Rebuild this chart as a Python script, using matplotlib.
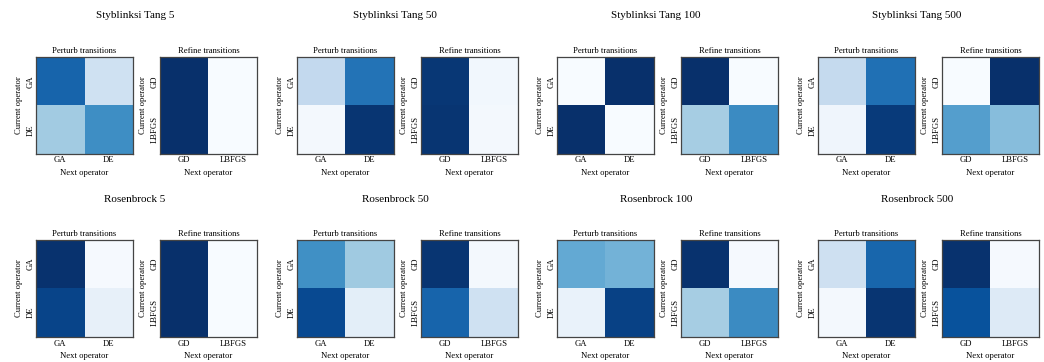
import numpy as np
import matplotlib
matplotlib.use("Agg")
import matplotlib.pyplot as plt

plt.rcParams["font.family"] = ["Liberation Serif", "DejaVu Serif"]

# Transition probabilities (rows: current operator, columns: next operator)
perturb_ops = ["GA", "DE"]
refine_ops = ["GD", "LBFGS"]

problems = [
    "Styblinksi Tang 5", "Styblinksi Tang 50", "Styblinksi Tang 100", "Styblinksi Tang 500",
    "Rosenbrock 5", "Rosenbrock 50", "Rosenbrock 100", "Rosenbrock 500",
]

perturb_st5 = [[0.80, 0.20], [0.36, 0.64]]
refine_st5 = [[1.00, 0.00], [1.00, 0.00]]
perturb_st50 = [[0.26, 0.74], [0.02, 0.98]]
refine_st50 = [[0.97, 0.03], [0.98, 0.02]]
perturb_st100 = [[0.00, 1.00], [1.00, 0.00]]
refine_st100 = [[1.00, 0.00], [0.35, 0.65]]
perturb_st500 = [[0.25, 0.75], [0.04, 0.96]]
refine_st500 = [[0.00, 1.00], [0.57, 0.43]]

perturb_rb5 = [[0.99, 0.01], [0.92, 0.08]]
refine_rb5 = [[1.00, 0.00], [1.00, 0.00]]
perturb_rb50 = [[0.63, 0.37], [0.90, 0.10]]
refine_rb50 = [[0.98, 0.02], [0.80, 0.20]]
perturb_rb100 = [[0.52, 0.48], [0.07, 0.93]]
refine_rb100 = [[0.99, 0.01], [0.35, 0.65]]
perturb_rb500 = [[0.21, 0.79], [0.02, 0.98]]
refine_rb500 = [[0.99, 0.01], [0.87, 0.13]]

perturb_all = [perturb_st5, perturb_st50, perturb_st100, perturb_st500,
               perturb_rb5, perturb_rb50, perturb_rb100, perturb_rb500]
refine_all = [refine_st5, refine_st50, refine_st100, refine_st500,
              refine_rb5, refine_rb50, refine_rb100, refine_rb500]

W, H = 1044, 362
fig = plt.figure(figsize=(W / 100, H / 100), dpi=100)

size = 97
perturb_left = [36, 297, 557, 818]
refine_offset = 124
row_top = [57, 240]
title_y = [15, 199]
title_x = [135, 395, 656, 917]


def px_axes(left, top, w, h):
    return fig.add_axes([left / W, 1 - (top + h) / H, w / W, h / H])


def draw(ax, mat, ops, title):
    ax.imshow(np.array(mat), cmap="Blues", vmin=0, vmax=1,
              interpolation="nearest", aspect="auto")
    ax.set_xticks(range(len(ops)))
    ax.set_xticklabels(ops)
    ax.set_yticks(range(len(ops)))
    ax.set_yticklabels(ops, rotation=90, va="center")
    ax.tick_params(axis="x", length=0, labelsize=6.2, pad=1.8)
    ax.tick_params(axis="y", length=0, labelsize=6.2, pad=1.0)
    ax.set_xlabel("Next operator", fontsize=6.2, labelpad=3)
    ax.set_ylabel("Current operator", fontsize=6.2, labelpad=2.5)
    ax.set_title(title, fontsize=6.2, pad=3)
    for s in ax.spines.values():
        s.set_color("#444444")
        s.set_linewidth(0.9)


for i, name in enumerate(problems):
    r, c = divmod(i, 4)
    ax1 = px_axes(perturb_left[c], row_top[r], size, size)
    draw(ax1, perturb_all[i], perturb_ops, "Perturb transitions")
    ax2 = px_axes(perturb_left[c] + refine_offset, row_top[r], size, size)
    draw(ax2, refine_all[i], refine_ops, "Refine transitions")
    fig.text(title_x[c] / W, 1 - title_y[r] / H, name, fontsize=8,
             ha="center", va="center")

fig.savefig("out.png", dpi=100)
